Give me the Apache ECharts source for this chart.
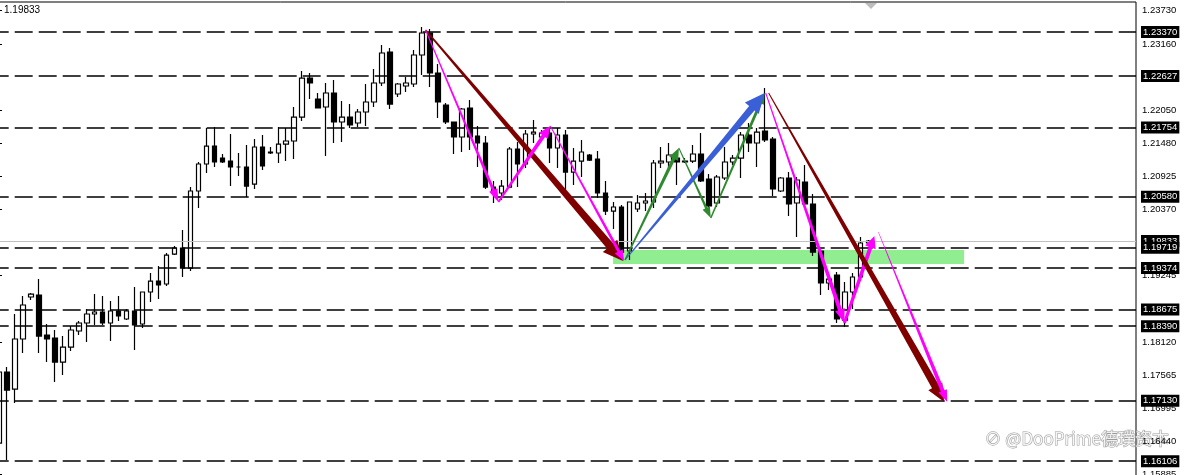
<!DOCTYPE html>
<html>
<head>
<meta charset="utf-8">
<script src="https://cdn.jsdelivr.net/npm/echarts@6/dist/echarts.min.js"></script>
<style>
  html, body { margin: 0; padding: 0; background: #fff; overflow: hidden; }
  #chart { position: absolute; left: -5px; top: 0; width: 1189px; height: 475px; }
</style>
</head>
<body>
<div id="chart"></div>
<script>
// H4 candles (price values)
const opens = [
  1.16413, 1.17615, 1.17327, 1.18174, 1.18885, 1.18918, 1.18241, 1.18191, 1.17784, 1.18038,
  1.18309, 1.18445, 1.18597, 1.18631, 1.18445, 1.18648, 1.18512, 1.18648, 1.18428, 1.18969,
  1.19155, 1.19105, 1.19612, 1.19714, 1.19375, 1.20679, 1.21136, 1.21440, 1.21237, 1.21186,
  1.21085, 1.21085, 1.20797, 1.21424, 1.21339, 1.21322, 1.21474, 1.21525, 1.21931, 1.22591,
  1.22236, 1.22101, 1.22338, 1.21847, 1.21931, 1.21830, 1.22016, 1.22185, 1.22507, 1.23031,
  1.22321, 1.22456, 1.22490, 1.22981, 1.23353, 1.22676, 1.22134, 1.21847, 1.21593, 1.22084,
  1.21610, 1.21491, 1.20746, 1.20645, 1.20746, 1.21390, 1.21136, 1.21644, 1.21593, 1.21660,
  1.21407, 1.21627, 1.21000, 1.21186, 1.21288, 1.21220, 1.20645, 1.20340, 1.20408, 1.19663,
  1.20374, 1.20476, 1.20493, 1.21153, 1.21170, 1.21237, 1.21186, 1.21186, 1.21305, 1.20882,
  1.20476, 1.20899, 1.21170, 1.21237, 1.21627, 1.21491, 1.21694, 1.21559, 1.20679, 1.20899,
  1.20476, 1.20831, 1.20459, 1.19663, 1.19122, 1.19257, 1.18495, 1.18969, 1.19223, 1.19799
]
const closes = [
  1.17615, 1.17310, 1.18174, 1.18749, 1.18935, 1.18224, 1.18174, 1.17784, 1.18038, 1.18326,
  1.18445, 1.18597, 1.18631, 1.18445, 1.18648, 1.18563, 1.18648, 1.18411, 1.18969, 1.19155,
  1.19088, 1.19595, 1.19714, 1.19375, 1.20679, 1.21136, 1.21440, 1.21170, 1.21170, 1.21085,
  1.21085, 1.20763, 1.21424, 1.21102, 1.21322, 1.21474, 1.21525, 1.21931, 1.22591, 1.22507,
  1.22084, 1.22338, 1.21847, 1.21931, 1.21796, 1.22016, 1.22185, 1.22507, 1.23015, 1.22151,
  1.22490, 1.22507, 1.22981, 1.23353, 1.22676, 1.22185, 1.21847, 1.21593, 1.22067, 1.21593,
  1.21491, 1.20746, 1.20645, 1.20763, 1.21390, 1.21136, 1.21644, 1.21677, 1.21660, 1.21407,
  1.21627, 1.21000, 1.21186, 1.21339, 1.21203, 1.20645, 1.20340, 1.20408, 1.19646, 1.20493,
  1.20476, 1.20510, 1.21153, 1.21186, 1.21288, 1.21170, 1.21170, 1.21305, 1.20848, 1.20425,
  1.20916, 1.21170, 1.21237, 1.21627, 1.21491, 1.21677, 1.21542, 1.20713, 1.20899, 1.20459,
  1.20865, 1.20459, 1.19646, 1.19122, 1.19189, 1.18512, 1.18969, 1.19223, 1.19799, 1.19832
]
const lows = [
  1.16346, 1.16126, 1.17090, 1.17937, 1.18834, 1.17937, 1.17784, 1.17446, 1.17564, 1.17971,
  1.18241, 1.18123, 1.18411, 1.18411, 1.18140, 1.18478, 1.18495, 1.17988, 1.18360, 1.18800,
  1.18851, 1.19071, 1.19595, 1.19223, 1.19325, 1.20391, 1.20983, 1.21085, 1.21153, 1.20763,
  1.20933, 1.20577, 1.20713, 1.21034, 1.21305, 1.21153, 1.21186, 1.21220, 1.21864, 1.22236,
  1.22084, 1.21271, 1.21491, 1.21508, 1.21745, 1.21762, 1.21779, 1.22101, 1.22456, 1.22067,
  1.22270, 1.22354, 1.22439, 1.22642, 1.22439, 1.21914, 1.21813, 1.21305, 1.21339, 1.21373,
  1.21085, 1.20713, 1.20476, 1.20526, 1.20746, 1.20746, 1.21068, 1.21491, 1.21542, 1.21153,
  1.21068, 1.20696, 1.20780, 1.20916, 1.21186, 1.20560, 1.20273, 1.20036, 1.19545, 1.19511,
  1.20323, 1.20340, 1.20391, 1.21068, 1.21068, 1.20780, 1.21153, 1.21153, 1.20831, 1.20408,
  1.20408, 1.20865, 1.21119, 1.20899, 1.21339, 1.21085, 1.21508, 1.20594, 1.20662, 1.20256,
  1.19900, 1.20442, 1.19579, 1.18918, 1.19003, 1.18445, 1.18377, 1.18682, 1.19155, 1.19782
]
const highs = [
  1.17683, 1.17700, 1.18597, 1.18902, 1.18952, 1.19189, 1.18428, 1.18326, 1.18224, 1.18394,
  1.18478, 1.18682, 1.18935, 1.18902, 1.18817, 1.18902, 1.18682, 1.19054, 1.18969, 1.19291,
  1.19409, 1.19629, 1.19748, 1.20019, 1.20746, 1.21170, 1.21745, 1.21762, 1.21305, 1.21644,
  1.21322, 1.21457, 1.21559, 1.21627, 1.21424, 1.21762, 1.21745, 1.22101, 1.22710, 1.22676,
  1.22338, 1.22507, 1.22558, 1.22202, 1.22151, 1.22067, 1.22490, 1.22744, 1.23150, 1.23099,
  1.22507, 1.22608, 1.23065, 1.23455, 1.23421, 1.22828, 1.22168, 1.21847, 1.22084, 1.22219,
  1.21779, 1.21610, 1.20848, 1.20865, 1.21424, 1.21508, 1.21711, 1.21880, 1.21711, 1.21762,
  1.21745, 1.21711, 1.21407, 1.21542, 1.21305, 1.21356, 1.20848, 1.20493, 1.20442, 1.20493,
  1.20611, 1.20645, 1.21203, 1.21424, 1.21491, 1.21339, 1.21237, 1.21457, 1.21660, 1.20966,
  1.20950, 1.21424, 1.21288, 1.21677, 1.21830, 1.21745, 1.22422, 1.21593, 1.20916, 1.21000,
  1.20916, 1.21119, 1.20628, 1.19663, 1.19291, 1.19308, 1.19138, 1.19291, 1.19900, 1.19849
]

// price scale labels shown on the right
const axisTicks = [1.23730, 1.23160, 1.22050, 1.21480, 1.20925, 1.20370, 1.19245, 1.18120, 1.17565, 1.16995, 1.16440, 1.15885]
// horizontal levels (dashed) and the current bid
const levelLines = [1.23370, 1.22627, 1.21754, 1.20580, 1.19719, 1.19374, 1.18675, 1.18390, 1.17130, 1.16106]
const bidPrice = 1.19833

// support zone: [from bar, low price, to bar, high price]
const zoneBand = [76.96, 1.19443, 120.96, 1.19680]

// drawn arrows: [from bar, from price, to bar, to price]
const arrowPaths = [
  [53.46, 1.23404, 78.21, 1.19494],
  [53.46, 1.23404, 62.59, 1.20493],
  [62.59, 1.20493, 69.09, 1.21779],
  [69.09, 1.21779, 78.34, 1.19494],
  [78.46, 1.19511, 85.21, 1.21407],
  [85.21, 1.21407, 89.21, 1.20222],
  [89.21, 1.20222, 95.96, 1.22338],
  [78.46, 1.19511, 95.96, 1.22338],
  [96.09, 1.22338, 105.96, 1.18445],
  [105.96, 1.18445, 109.71, 1.19917],
  [96.46, 1.22338, 118.46, 1.17107],
  [110.21, 1.19985, 118.84, 1.17107]
]
// look of each arrow: colour, tail width, shaft width at head, head length, head width
const arrowLooks = [
  ['#800000', 1.5, 8, 20, 19],
  ['#ff00ff', 1, 3, 13, 9],
  ['#ff00ff', 2, 4, 12, 11],
  ['#ff00ff', 1, 3, 11, 9],
  ['#2f8a2f', 1.5, 3.5, 12, 10],
  ['#2f8a2f', 1, 2.5, 11, 8],
  ['#2f8a2f', 1.5, 3, 11, 8],
  ['#3a5fd6', 1, 7, 20, 18],
  ['#ff00ff', 1, 4, 14, 10],
  ['#ff00ff', 3, 4, 12, 11],
  ['#800000', 1, 7.5, 18, 16],
  ['#ff00ff', 0.5, 4, 12, 9]
]

const slotCount = 143
const font = 'Liberation Sans, Arial, sans-serif'

const chart = echarts.init(document.getElementById('chart'))

const candles = opens.map((o, i) => [o, closes[i], lows[i], highs[i]])

const renderArrow = (params, api) => {
  const look = arrowLooks[params.dataIndex]
  const a = api.coord([api.value(0), api.value(1)])
  const b = api.coord([api.value(2), api.value(3)])
  const dx = b[0] - a[0], dy = b[1] - a[1]
  const len = Math.hypot(dx, dy)
  const ux = dx / len, uy = dy / len
  const nx = -uy, ny = ux
  const [color, w0, w1, hl, hw] = look
  const bx = b[0] - ux * hl, by = b[1] - uy * hl
  return {
    type: 'polygon',
    shape: {
      points: [
        [a[0] + nx * w0 / 2, a[1] + ny * w0 / 2],
        [bx + nx * w1 / 2, by + ny * w1 / 2],
        [bx + nx * hw / 2, by + ny * hw / 2],
        [b[0], b[1]],
        [bx - nx * hw / 2, by - ny * hw / 2],
        [bx - nx * w1 / 2, by - ny * w1 / 2],
        [a[0] - nx * w0 / 2, a[1] - ny * w0 / 2]
      ]
    },
    style: { fill: color }
  }
}

const renderZone = (params, api) => {
  const p0 = api.coord([api.value(0), api.value(3)])
  const p1 = api.coord([api.value(2), api.value(1)])
  return {
    type: 'rect',
    shape: { x: p0[0], y: p0[1], width: p1[0] - p0[0], height: p1[1] - p0[1] },
    style: { fill: '#90ee90' }
  }
}

const tagLabel = {
  show: true,
  position: 'end',
  distance: 5,
  formatter: (p) => Number(p.value).toFixed(5),
  color: '#fff',
  backgroundColor: '#000',
  padding: [1, 2, 0, 2],
  lineHeight: 11,
  fontSize: 9.5,
  fontFamily: font
}

const options = {
  animation: false,
  grid: {
    left: 0,
    top: 2,
    width: 1141,
    height: 474,
    outerBoundsMode: 'none',
    containLabel: false,
    show: true,
    borderColor: '#000',
    borderWidth: 1
  },
  xAxis: [
    {
      type: 'category',
      data: Array.from({ length: slotCount }, (_, i) => i),
      show: false
    },
    {
      type: 'value',
      min: -0.5,
      max: slotCount - 0.5,
      show: false
    }
  ],
  yAxis: {
    type: 'value',
    position: 'right',
    min: 1.15855,
    max: 1.23878,
    splitLine: { show: false },
    axisLine: { show: true, lineStyle: { color: '#000', width: 1 } },
    axisTick: { show: true, length: 3, customValues: axisTicks, lineStyle: { color: '#000' } },
    axisLabel: {
      customValues: axisTicks,
      formatter: (v) => v.toFixed(5),
      margin: 6,
      color: '#000',
      fontSize: 9.5,
      fontFamily: font
    }
  },
  series: [
    {
      type: 'custom',
      name: 'zone',
      xAxisIndex: 1,
      z: 1,
      renderItem: renderZone,
      data: [zoneBand],
      silent: true
    },
    {
      type: 'candlestick',
      xAxisIndex: 0,
      z: 3,
      barWidth: 5,
      itemStyle: {
        color: '#fff',
        color0: '#000',
        borderColor: '#000',
        borderColor0: '#000',
        borderWidth: 1.2
      },
      data: candles,
      markLine: {
        silent: true,
        symbol: 'none',
        precision: 5,
        animation: false,
        lineStyle: { color: '#000', width: 1.5, type: [18, 6], dashOffset: 4.3 },
        label: tagLabel,
        data: [
          { yAxis: bidPrice, lineStyle: { color: '#c0c0c0', width: 1, type: 'solid' } }
        ].concat(levelLines.map((v) => ({ yAxis: v })))
      }
    },
    {
      type: 'custom',
      name: 'arrows',
      xAxisIndex: 1,
      z: 5,
      renderItem: renderArrow,
      data: arrowPaths,
      silent: true
    }
  ],
  graphic: [
    {
      type: 'text',
      left: 9,
      top: 5,
      style: { text: '1.19833', fill: '#000', font: '10px Liberation Sans' }
    },
    {
      type: 'polygon',
      shape: { points: [[870, 3], [882, 3], [876, 9]] },
      style: { fill: '#bdbdbd' }
    },
    {
      type: 'text',
      left: 989,
      top: 430,
      style: {
        text: '\u2298 @DooPrime德璞资本',
        fill: 'rgba(255,255,255,0.85)',
        stroke: '#9a9a9a',
        lineWidth: 1,
        font: '17px "Noto Sans CJK SC"'
      }
    }
  ]
}

chart.setOption(options)
</script>
</body>
</html>
